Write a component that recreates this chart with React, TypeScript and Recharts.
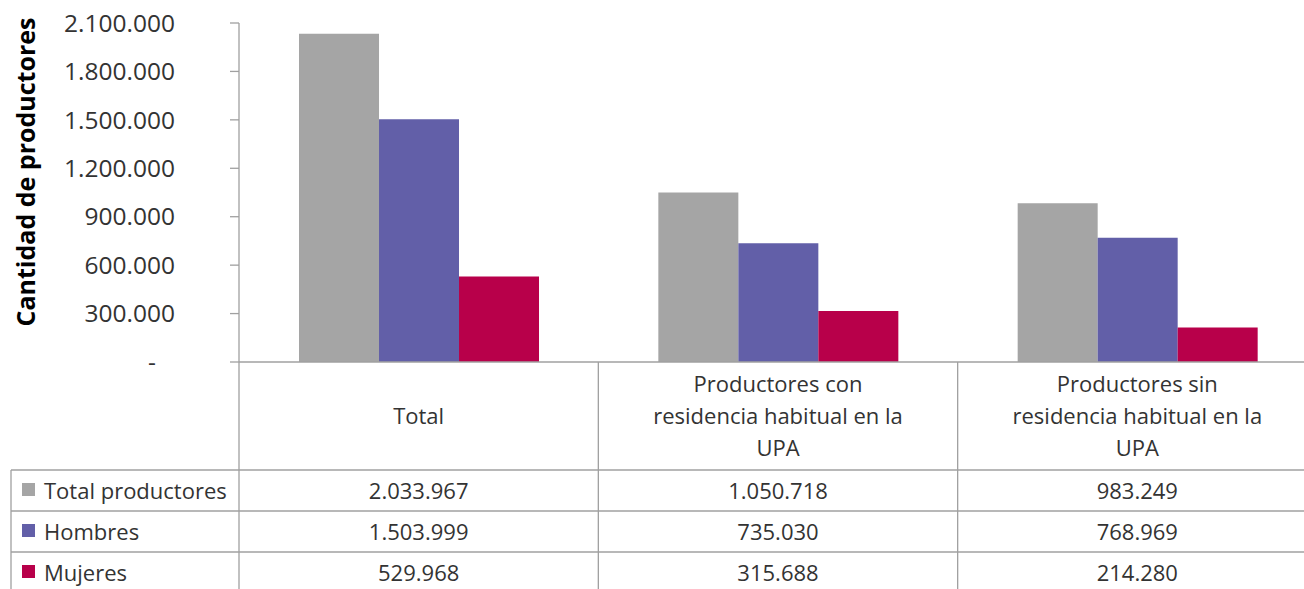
import { BarChart, Bar, XAxis, YAxis } from 'recharts';

const CATEGORIES = [
  'Total',
  'Productores con residencia habitual en la UPA',
  'Productores sin residencia habitual en la UPA',
];
const CATEGORY_LINES = [
  ['Total'],
  ['Productores con', 'residencia habitual en la', 'UPA'],
  ['Productores sin', 'residencia habitual en la', 'UPA'],
];
const TOTAL_PRODUCTORES = [2033967, 1050718, 983249];
const HOMBRES = [1503999, 735030, 768969];
const MUJERES = [529968, 315688, 214280];
const Y_TICKS = [0, 300000, 600000, 900000, 1200000, 1500000, 1800000, 2100000];

const SERIES = [
  { key: 'total', name: 'Total productores', color: '#A5A5A5', values: TOTAL_PRODUCTORES },
  { key: 'hombres', name: 'Hombres', color: '#625FA8', values: HOMBRES },
  { key: 'mujeres', name: 'Mujeres', color: '#B8004A', values: MUJERES },
];

const data = CATEGORIES.map((name, i) => {
  const row: Record<string, string | number> = { name };
  SERIES.forEach((s) => (row[s.key] = s.values[i]));
  return row;
});

const W = 1317;
const H = 600;
const AXIS_W = 239;
const TOP = 23;
const PLOT_BOTTOM = 362;
const BAND = (W - AXIS_W) / CATEGORIES.length;
const LINE = '#A0A0A0';
const TEXT = '#333333';
const FONT = '"Open Sans", "Noto Sans", sans-serif';
const TABLE_FONT = 22;

const fmt = (v: number) => String(v).replace(/\B(?=(\d{3})+(?!\d))/g, '.');

function TableTick(props: any) {
  const { x, y, index } = props;
  const lines = CATEGORY_LINES[index];
  const left = x - BAND / 2;
  const headerMid = y + 53;
  const rowY = [y + 108, y + 149, y + 190];
  return (
    <g>
      {index === 0 && (
        <g>
          {rowY.map((ry) => (
            <line key={ry} x1={11} x2={W} y1={ry} y2={ry} stroke={LINE} strokeWidth={1.3} />
          ))}
          <line x1={11} x2={11} y1={rowY[0]} y2={H} stroke={LINE} strokeWidth={1.3} />
          {SERIES.map((s, i) => (
            <g key={s.key}>
              <rect x={22} y={rowY[i] + 13} width={13} height={13} fill={s.color} />
              <text x={44} y={rowY[i] + 20} dominantBaseline="central" fontSize={TABLE_FONT} fill={TEXT}>
                {s.name}
              </text>
            </g>
          ))}
        </g>
      )}
      <line x1={left} x2={left} y1={y} y2={H} stroke={LINE} strokeWidth={1.3} />
      {lines.map((l, i) => (
        <text
          key={i}
          x={x}
          y={headerMid + (i - (lines.length - 1) / 2) * 32}
          textAnchor="middle"
          dominantBaseline="central"
          fontSize={TABLE_FONT}
          fill={TEXT}
        >
          {l}
        </text>
      ))}
      {SERIES.map((s, i) => (
        <text
          key={s.key}
          x={x}
          y={rowY[i] + 20}
          textAnchor="middle"
          dominantBaseline="central"
          fontSize={TABLE_FONT}
          fill={TEXT}
        >
          {fmt(s.values[index])}
        </text>
      ))}
    </g>
  );
}

function AxisTitle() {
  return (
    <text
      x={25}
      y={172}
      transform="rotate(-90 25 172)"
      textAnchor="middle"
      dominantBaseline="central"
      fontSize={25}
      fontWeight="bold"
      fill="#000"
    >
      Cantidad de productores
    </text>
  );
}

export default function App() {
  return (
    <div
      style={{
        position: 'fixed',
        left: 0,
        top: 0,
        width: 1304,
        height: 589,
        overflow: 'hidden',
        background: '#fff',
        fontFamily: FONT,
      }}
    >
      <BarChart
        width={W}
        height={H}
        data={data}
        margin={{ top: TOP, right: 0, left: 0, bottom: 0 }}
        barCategoryGap="16.7%"
        barGap={0}
        style={{ fontFamily: FONT }}
      >
        <XAxis
          dataKey="name"
          height={H - PLOT_BOTTOM}
          tickSize={0}
          tickMargin={0}
          interval={0}
          axisLine={{ stroke: LINE, strokeWidth: 1.3 }}
          tickLine={false}
          tick={<TableTick />}
        />
        <YAxis
          width={AXIS_W}
          domain={[0, 2100000]}
          ticks={Y_TICKS}
          interval={0}
          tickSize={9}
          tickMargin={55}
          axisLine={{ stroke: LINE, strokeWidth: 1.3 }}
          tickLine={{ stroke: LINE, strokeWidth: 1.3 }}
          tick={{ fill: TEXT, fontSize: 24.5 }}
          tickFormatter={(v: number) => (v === 0 ? '-\u00A0\u00A0\u00A0' : fmt(v))}
          label={<AxisTitle />}
        />
        {SERIES.map((s) => (
          <Bar key={s.key} dataKey={s.key} name={s.name} fill={s.color} isAnimationActive={false} />
        ))}
      </BarChart>
    </div>
  );
}
